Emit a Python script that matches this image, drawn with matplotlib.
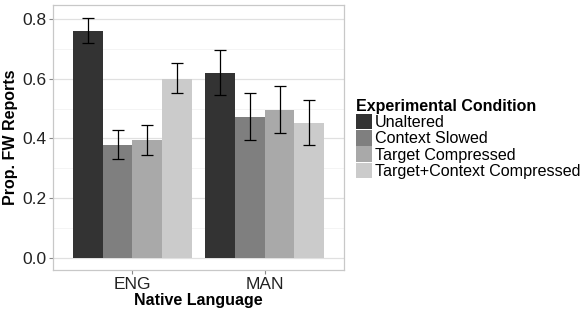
import numpy as np
import matplotlib
matplotlib.use("Agg")
import matplotlib.pyplot as plt
from matplotlib.patches import Patch

plt.rcParams["font.family"] = ["Liberation Sans", "DejaVu Sans"]

languages = ["ENG", "MAN"]
conditions = ["Unaltered", "Context Slowed", "Target Compressed", "Target+Context Compressed"]
colors = ["#333333", "#7f7f7f", "#a9a9a9", "#cbcbcb"]

# mean and error-bar bounds per condition, [ENG, MAN]
means = {
    "Unaltered":                 [0.760, 0.620],
    "Context Slowed":            [0.377, 0.473],
    "Target Compressed":         [0.395, 0.495],
    "Target+Context Compressed": [0.600, 0.453],
}
lower = {
    "Unaltered":                 [0.720, 0.545],
    "Context Slowed":            [0.330, 0.395],
    "Target Compressed":         [0.345, 0.418],
    "Target+Context Compressed": [0.552, 0.377],
}
upper = {
    "Unaltered":                 [0.805, 0.695],
    "Context Slowed":            [0.427, 0.553],
    "Target Compressed":         [0.445, 0.575],
    "Target+Context Compressed": [0.652, 0.530],
}

fig = plt.figure(figsize=(5.84, 3.12), dpi=100)
ax = fig.add_axes([0.091, 0.135, 0.498, 0.849])

x = np.arange(1, len(languages) + 1)
group_w = 0.9
w = group_w / len(conditions)

for i, cond in enumerate(conditions):
    pos = x - group_w / 2 + w * (i + 0.5)
    m = np.array(means[cond])
    lo = m - np.array(lower[cond])
    hi = np.array(upper[cond]) - m
    ax.bar(pos, m, width=w, color=colors[i], zorder=2)
    ax.errorbar(pos, m, yerr=[lo, hi], fmt="none", ecolor="black",
                elinewidth=0.9, capsize=4.5, capthick=0.9, zorder=3)

ax.set_xlim(0.4, 2.6)
ax.set_ylim(-0.04, 0.847)
ax.set_xticks(x)
ax.set_xticklabels(languages)
ax.set_yticks([0.0, 0.2, 0.4, 0.6, 0.8])
ax.set_yticklabels(["0.0", "0.2", "0.4", "0.6", "0.8"])
ax.set_yticks([0.1, 0.3, 0.5, 0.7], minor=True)

ax.grid(axis="y", which="major", color="#e0e0e0", linewidth=0.9, zorder=0)
ax.grid(axis="y", which="minor", color="#f4f4f4", linewidth=0.7, zorder=0)
ax.tick_params(axis="both", which="major", length=3, color="#888888",
               labelsize=12.5, labelcolor="#222222", pad=2)
ax.tick_params(axis="y", which="minor", length=0)
for s in ax.spines.values():
    s.set_color("#c8c8c8")
    s.set_linewidth(0.9)

ax.set_xlabel("Native Language", fontsize=11.5, fontweight="bold", labelpad=1)
ax.set_ylabel("Prop. FW Reports", fontsize=11.5, fontweight="bold", labelpad=3)

handles = [Patch(facecolor=c, edgecolor="none") for c in colors]
leg = fig.legend(handles, conditions, title="Experimental Condition",
                 loc="upper left", bbox_to_anchor=(0.610, 0.683),
                 frameon=False, fontsize=11.6, title_fontsize=11.5,
                 handlelength=1.0, handleheight=1.1, handletextpad=0.15,
                 labelspacing=0.0, borderaxespad=0, borderpad=0)
leg.get_title().set_fontweight("bold")
leg._legend_box.align = "left"

fig.savefig("out.png", dpi=100)
